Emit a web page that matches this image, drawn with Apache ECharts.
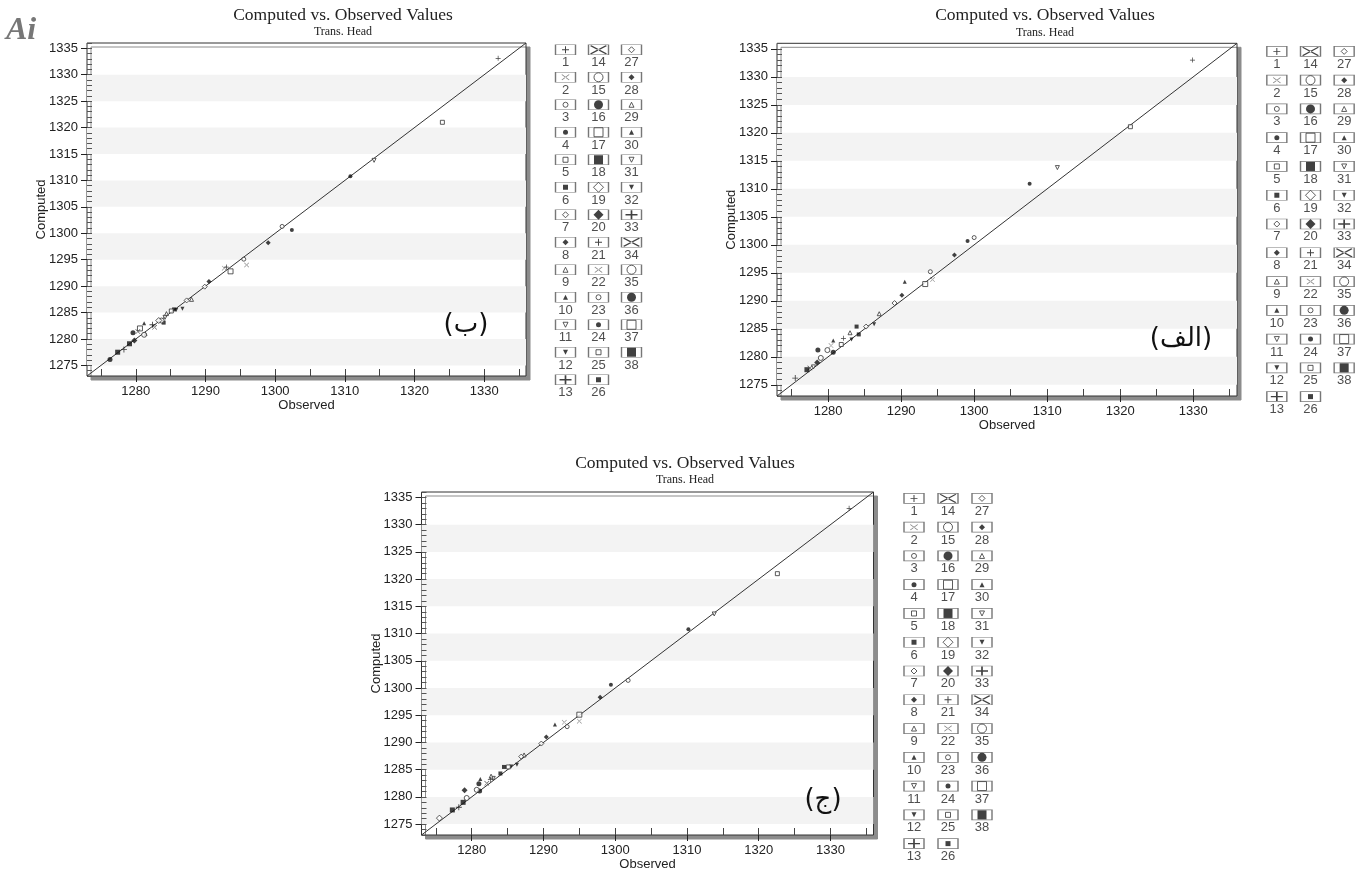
<!DOCTYPE html>
<html>
<head>
<meta charset="utf-8">
<title>Computed vs. Observed Values</title>
<script src="https://cdn.jsdelivr.net/npm/echarts/dist/echarts.min.js"></script>
<style>
  html, body { margin: 0; padding: 0; background: #fff; }
  #chart { width: 1368px; height: 872px; }
</style>
</head>
<body>
<div id="chart"></div>
<script>
// ---- data ----
const wellIds = [1, 2, 3, 4, 5, 6, 7, 8, 9, 10, 11, 12, 13, 14, 15, 16, 17, 18, 19,
  20, 21, 22, 23, 24, 25, 26, 27, 28, 29, 30, 31, 32, 33, 34, 35, 36, 37, 38];

const axisRange = [1273, 1336];
const fitLine = [[1273, 1273], [1336, 1336]];
const xTickValues = [1280, 1290, 1300, 1310, 1320, 1330];
const xMinorValues = [1275, 1280, 1285, 1290, 1295, 1300, 1305, 1310, 1315, 1320, 1325, 1330, 1335];
const yTickValues = [1275, 1280, 1285, 1290, 1295, 1300, 1305, 1310, 1315, 1320, 1325, 1330, 1335];
const bands = [[1275, 1280], [1285, 1290], [1295, 1300], [1305, 1310], [1315, 1320], [1325, 1330]];

// panel (ب)
const obsB = [1332.0, 1324.0, 1314.2, 1310.8, 1301.0, 1302.4, 1299.0, 1295.5, 1295.9, 1293.6,
  1292.7, 1293.0, 1290.5, 1289.9, 1288.0, 1287.3, 1286.7, 1285.8, 1285.5, 1285.1,
  1284.4, 1284.2, 1284.0, 1283.7, 1283.3, 1282.7, 1282.4, 1281.2, 1281.4, 1281.2,
  1280.6, 1280.3, 1279.6, 1279.8, 1279.1, 1278.3, 1277.4, 1276.3];
const compB = [1333.1, 1321.0, 1313.8, 1310.8, 1301.3, 1300.6, 1298.2, 1295.1, 1294.0, 1292.8,
  1293.4, 1293.6, 1290.9, 1289.9, 1287.5, 1287.3, 1285.7, 1285.5, 1285.6, 1285.3,
  1284.8, 1284.1, 1283.1, 1283.5, 1283.5, 1282.2, 1282.7, 1283.0, 1281.0, 1280.8,
  1282.0, 1281.4, 1281.2, 1279.7, 1279.1, 1278.0, 1277.5, 1276.1];
const wellB = [21, 25, 31, 24, 23, 4, 8, 3, 22, 17, 2, 1, 28, 7, 29, 27, 12, 32, 26, 5,
  9, 11, 6, 15, 19, 14, 13, 10, 30, 35, 37, 34, 36, 20, 18, 33, 38, 16];

// panel (الف)
const obsA = [1329.9, 1321.4, 1311.4, 1307.6, 1300.0, 1299.1, 1297.3, 1294.0, 1294.3, 1293.3,
  1290.5, 1290.1, 1289.1, 1287.0, 1286.3, 1285.2, 1283.9, 1284.2, 1283.0, 1283.2,
  1282.1, 1281.8, 1280.7, 1280.7, 1280.4, 1279.9, 1278.6, 1278.5, 1279.0, 1278.0,
  1277.1, 1277.5, 1275.5];
const compA = [1333.0, 1321.1, 1313.8, 1310.9, 1301.3, 1300.7, 1298.2, 1295.2, 1293.8, 1293.0,
  1293.4, 1291.0, 1289.6, 1287.7, 1285.8, 1285.4, 1285.4, 1284.0, 1284.3, 1283.1,
  1283.3, 1282.2, 1282.9, 1280.8, 1282.0, 1281.2, 1281.2, 1279.0, 1279.8, 1278.2,
  1277.7, 1278.0, 1276.2];
const wellA = [21, 25, 31, 24, 23, 4, 8, 3, 22, 17, 10, 28, 7, 29, 12, 27, 26, 6, 9, 32,
  1, 5, 30, 36, 2, 15, 16, 20, 35, 11, 38, 14, 13];

// panel (ج)
const obsC = [1332.6, 1322.6, 1313.8, 1310.2, 1301.8, 1299.4, 1297.9, 1295.0, 1295.0, 1293.3,
  1292.9, 1291.6, 1290.4, 1289.7, 1287.3, 1286.9, 1286.3, 1285.5, 1285.1, 1284.5,
  1284.0, 1283.0, 1282.7, 1282.6, 1282.1, 1281.2, 1281.0, 1281.1, 1280.7, 1279.0,
  1279.3, 1278.8, 1278.2, 1277.3, 1275.5];
const compC = [1333.0, 1321.0, 1313.6, 1310.8, 1301.4, 1300.6, 1298.3, 1295.1, 1293.9, 1292.9,
  1293.7, 1293.3, 1291.0, 1289.8, 1287.7, 1287.4, 1285.9, 1285.6, 1285.5, 1285.5,
  1284.3, 1283.4, 1283.8, 1283.2, 1282.5, 1283.3, 1282.4, 1281.1, 1281.3, 1281.2,
  1279.8, 1279.0, 1278.1, 1277.6, 1276.1];
const wellC = [21, 25, 31, 24, 23, 4, 8, 17, 22, 3, 2, 10, 28, 7, 29, 27, 12, 32, 5, 26,
  6, 11, 9, 1, 14, 30, 36, 16, 15, 20, 35, 18, 33, 38, 19];

// ---- marker styles per well (legend order) ----
const KIND = ['plus', 'x', 'circleO', 'circleF', 'rectO', 'rectF', 'diamondO', 'diamondF',
  'triO', 'triF', 'tdO', 'tdF', 'plus', 'x', 'circleO', 'circleF', 'rectO', 'rectF',
  'diamondO', 'diamondF', 'plus', 'x', 'circleO', 'circleF', 'rectO', 'rectF', 'diamondO',
  'diamondF', 'triO', 'triF', 'tdO', 'tdF', 'plus', 'x', 'circleO', 'circleF', 'rectO', 'rectF'];
const BIG = [13, 14, 15, 16, 17, 18, 19, 20, 33, 34, 35, 36, 37, 38];

const PLUS = 'path://M-1,-0.14L1,-0.14L1,0.14L-1,0.14Z M-0.14,-1L0.14,-1L0.14,1L-0.14,1Z';
const CROSS = 'path://M-1,-0.84L-0.84,-1L1,0.84L0.84,1Z M1,-0.84L0.84,-1L-1,0.84L-0.84,1Z';
const FONT = '"Liberation Sans", Arial, sans-serif';
const SERIF = '"Liberation Serif", "Times New Roman", serif';

function markStyle(well, inLegend) {
  const kind = KIND[well - 1];
  const big = BIG.indexOf(well) >= 0;
  let size = inLegend ? (big ? 9 : 5) : (big ? 5 : 4);
  let symbol = 'circle', rotate = 0;
  if (kind === 'plus') { symbol = PLUS; size = inLegend ? (big ? [12, 9] : 7) : (big ? 6 : 5); }
  else if (kind === 'x') { symbol = CROSS; size = inLegend ? (big ? [17, 9] : [8, 6]) : 5; }
  else if (kind.startsWith('rect')) symbol = 'rect';
  else if (kind.startsWith('diamond')) { symbol = 'diamond'; size = size + 1; }
  else if (kind.startsWith('tri')) symbol = 'triangle';
  else if (kind.startsWith('td')) { symbol = 'triangle'; rotate = 180; }
  const open = kind.endsWith('O');
  const itemStyle = open
    ? { color: '#fff', borderColor: '#333', borderWidth: 1 }
    : { color: (kind === 'x' && !big) ? '#666' : '#111', borderWidth: 0 };
  return { symbol: symbol, symbolSize: size, symbolRotate: rotate, itemStyle: itemStyle };
}

function plain(v) { return String(v); }

// ---- panel layout ----
const panels = [
  { obs: obsB, comp: compB, well: wellB,
    plot: [87, 43, 439, 333], legend: [549, 36, 99, 357.5],
    title: [343, 15], sub: [343, 32], tag: '(ب)', tagPos: [466, 325] },
  { obs: obsA, comp: compA, well: wellA,
    plot: [777, 43.3, 460, 352.7], legend: [1260, 37, 101, 374],
    title: [1045, 15], sub: [1045, 33], tag: '(الف)', tagPos: [1181, 339] },
  { obs: obsC, comp: compC, well: wellC,
    plot: [421.5, 492, 452, 343], legend: [897, 484, 102, 374],
    title: [685, 463], sub: [685, 480], tag: '(ج)', tagPos: [823, 800] }
];

const yMinorValues = [];
for (let v = axisRange[0]; v <= axisRange[1]; v++) yMinorValues.push(v);

const grids = [], xAxes = [], yAxes = [], series = [], graphic = [];

graphic.push({
  type: 'text', x: 6, y: 31, z: 0,
  style: { text: 'Ai', fontSize: 32, fontStyle: 'italic', fontWeight: 'bold', fontFamily: SERIF,
    fill: '#777', align: 'left', verticalAlign: 'middle', textAlign: 'left', textVerticalAlign: 'middle' }
});

panels.forEach(function (p) {
  const gPlot = grids.length;
  grids.push({
    left: p.plot[0], top: p.plot[1], width: p.plot[2], height: p.plot[3],
    show: true, backgroundColor: '#fff', borderColor: '#333', borderWidth: 1,
    shadowColor: '#8c8c8c', shadowOffsetX: 4, shadowOffsetY: 4, shadowBlur: 0,
    containLabel: false, outerBoundsMode: 'none'
  });
  const gLeg = grids.length;
  grids.push({
    left: p.legend[0], top: p.legend[1], width: p.legend[2], height: p.legend[3],
    containLabel: false, outerBoundsMode: 'none'
  });

  const xMain = xAxes.length;
  xAxes.push({
    gridIndex: gPlot, type: 'value', min: axisRange[0], max: axisRange[1], position: 'bottom', z: 5,
    axisLine: { show: false },
    axisTick: { show: true, inside: false, length: 6, customValues: xTickValues, lineStyle: { color: '#222' } },
    axisLabel: { customValues: xTickValues, formatter: plain, fontSize: 13, color: '#222', margin: 9, fontFamily: FONT },
    splitLine: { show: false },
    name: 'Observed', nameLocation: 'middle', nameGap: 23, nameMoveOverlap: false,
    nameTextStyle: { fontSize: 13, color: '#222', fontFamily: FONT }
  });
  xAxes.push({
    gridIndex: gPlot, type: 'value', min: axisRange[0], max: axisRange[1], position: 'bottom', z: 5,
    axisLine: { show: false },
    axisTick: { show: true, inside: true, length: 7, customValues: xMinorValues, lineStyle: { color: '#444' } },
    axisLabel: { show: false }, splitLine: { show: false }
  });
  const xLeg = xAxes.length;
  xAxes.push({ gridIndex: gLeg, type: 'value', min: -0.5, max: 2.5, show: false });

  const yMain = yAxes.length;
  yAxes.push({
    gridIndex: gPlot, type: 'value', min: axisRange[0], max: axisRange[1], position: 'left', z: 5,
    axisLine: { show: false },
    axisTick: { show: true, inside: false, length: 6, customValues: yTickValues, lineStyle: { color: '#222' } },
    axisLabel: { customValues: yTickValues, formatter: plain, fontSize: 13, color: '#222', margin: 9, fontFamily: FONT },
    splitLine: { show: false }, splitArea: { show: false },
    name: 'Computed', nameLocation: 'middle', nameGap: 39, nameRotate: 90, nameMoveOverlap: false,
    nameTextStyle: { fontSize: 13, color: '#222', fontFamily: FONT }
  });
  yAxes.push({
    gridIndex: gPlot, type: 'value', min: axisRange[0], max: axisRange[1], position: 'left', z: 5,
    axisLine: { show: false },
    axisTick: { show: true, inside: true, length: 5, customValues: yMinorValues, lineStyle: { color: '#555' } },
    axisLabel: { show: false }, splitLine: { show: false }
  });
  const yLeg = yAxes.length;
  yAxes.push({ gridIndex: gLeg, type: 'value', min: -0.5, max: 12.5, inverse: true, show: false });

  // 1:1 line with the shaded bands
  series.push({
    type: 'line', xAxisIndex: xMain, yAxisIndex: yMain, data: fitLine,
    symbol: 'none', silent: true, z: 2,
    lineStyle: { color: '#333', width: 1 },
    markArea: {
      silent: true, itemStyle: { color: '#f3f3f3' },
      data: bands.map(function (b) { return [{ yAxis: b[0] }, { yAxis: b[1] }]; })
    }
  });

  // observed vs computed points
  series.push({
    type: 'scatter', xAxisIndex: xMain, yAxisIndex: yMain, z: 3,
    data: p.obs.map(function (o, i) {
      return Object.assign({ value: [o, p.comp[i]], name: String(p.well[i]) }, markStyle(p.well[i], false));
    })
  });

  // legend boxes with well numbers
  series.push({
    type: 'scatter', xAxisIndex: xLeg, yAxisIndex: yLeg, z: 3, silent: true,
    symbol: 'rect', symbolSize: [20, 10],
    itemStyle: { color: '#fff', borderColor: '#555', borderWidth: 1 },
    label: { show: true, position: 'bottom', distance: 1, formatter: '{b}',
      fontSize: 13, color: '#222', fontFamily: FONT },
    data: wellIds.map(function (id, i) {
      return { value: [Math.floor(i / 13), i % 13], name: String(id) };
    })
  });
  series.push({
    type: 'scatter', xAxisIndex: xLeg, yAxisIndex: yLeg, z: 4, silent: true,
    data: wellIds.map(function (id, i) {
      return Object.assign({ value: [Math.floor(i / 13), i % 13] }, markStyle(id, true));
    })
  });

  graphic.push({
    type: 'text', x: p.title[0], y: p.title[1],
    style: { text: 'Computed vs. Observed Values', fontSize: 17.5, fontFamily: SERIF, fill: '#222',
      align: 'center', verticalAlign: 'middle', textAlign: 'center', textVerticalAlign: 'middle' }
  });
  graphic.push({
    type: 'text', x: p.sub[0], y: p.sub[1],
    style: { text: 'Trans. Head', fontSize: 12, fontFamily: SERIF, fill: '#222',
      align: 'center', verticalAlign: 'middle', textAlign: 'center', textVerticalAlign: 'middle' }
  });
  graphic.push({
    type: 'text', x: p.tagPos[0], y: p.tagPos[1], z: 10,
    style: { text: p.tag, fontSize: 26, fontFamily: '"DejaVu Sans", sans-serif', fill: '#111',
      align: 'center', verticalAlign: 'middle', textAlign: 'center', textVerticalAlign: 'middle' }
  });
});

const chartDom = document.getElementById('chart');
const myChart = echarts.init(chartDom);
const option = {
  animation: false,
  backgroundColor: '#fff',
  grid: grids,
  xAxis: xAxes,
  yAxis: yAxes,
  series: series,
  graphic: graphic
};
option && myChart.setOption(option);
</script>
</body>
</html>
